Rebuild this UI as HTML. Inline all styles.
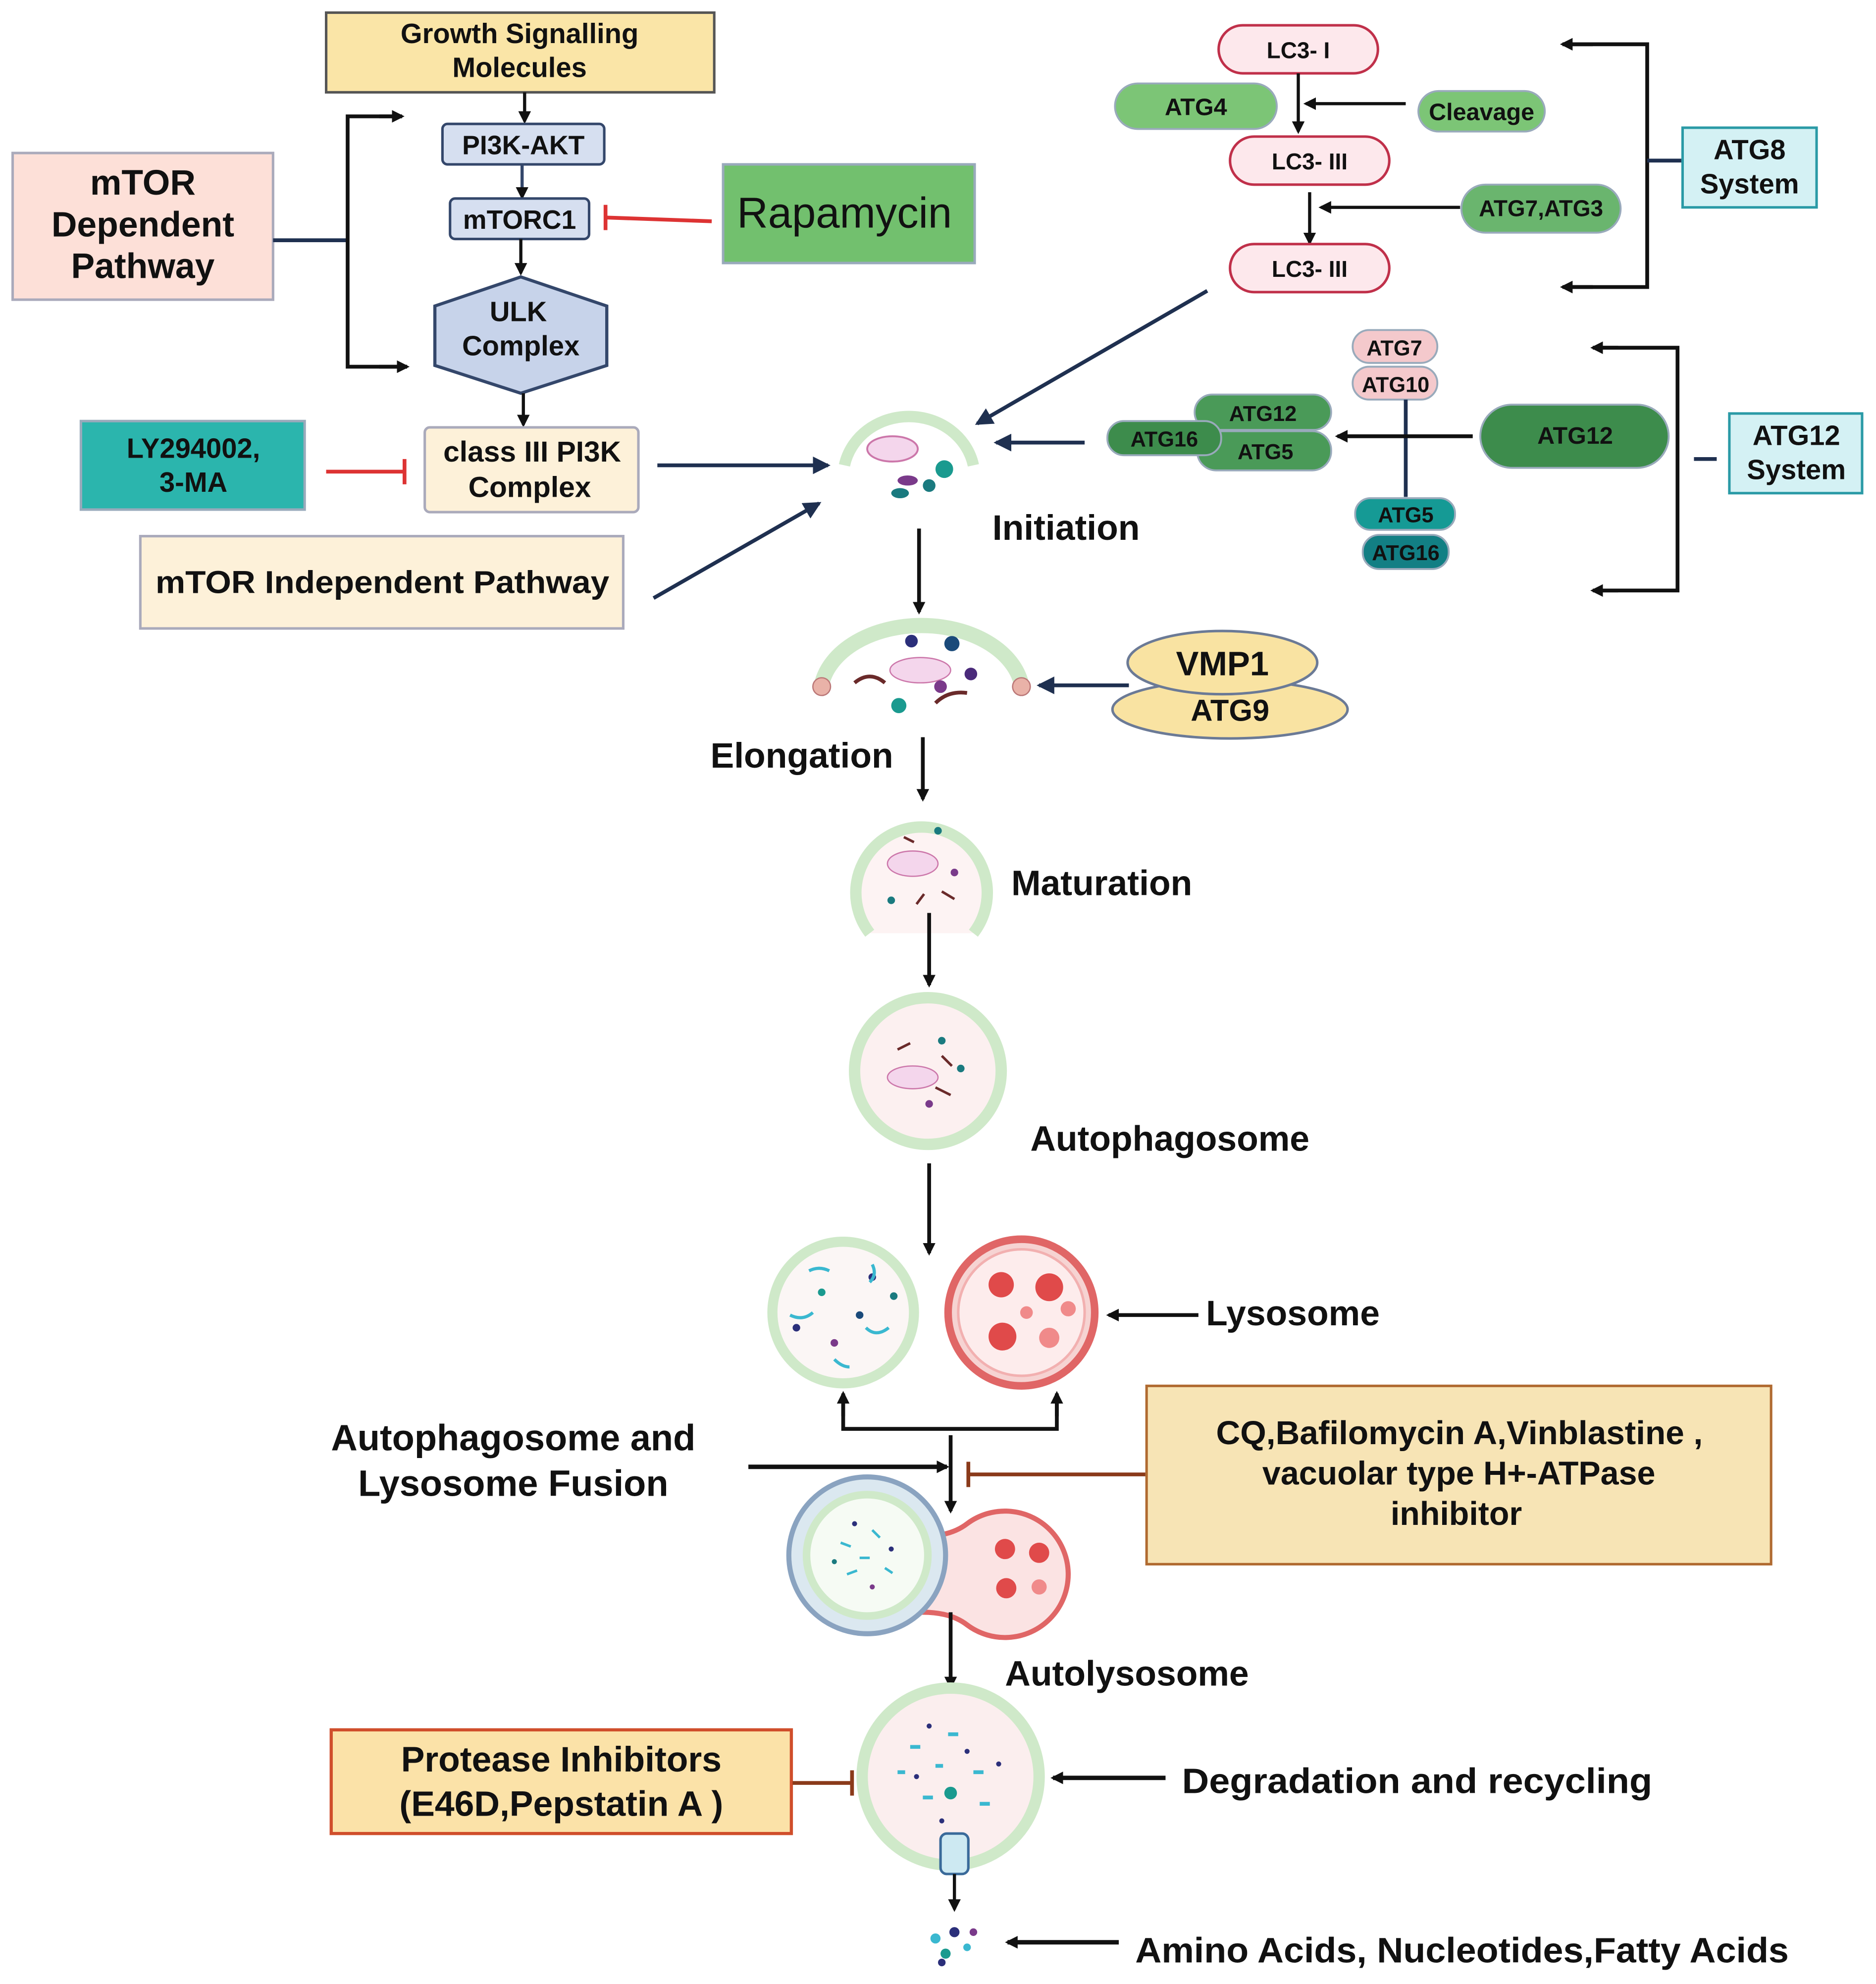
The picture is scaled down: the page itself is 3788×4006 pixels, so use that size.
<!DOCTYPE html>
<html><head><meta charset="utf-8"><style>
html,body{margin:0;padding:0;background:#fff;}
svg{display:block;}
text{font-family:"Liberation Sans",sans-serif;font-weight:bold;fill:#111;}
</style></head><body>
<svg width="3788" height="4006" viewBox="0 0 1484 1569" preserveAspectRatio="none" xmlns="http://www.w3.org/2000/svg">
<defs>
<marker id="a" markerWidth="10" markerHeight="10" refX="8" refY="5" orient="auto" markerUnits="userSpaceOnUse"><path d="M0,0 L10,5 L0,10 z" fill="#111"/></marker>
<marker id="b" markerWidth="14" markerHeight="14" refX="12" refY="7" orient="auto" markerUnits="userSpaceOnUse"><path d="M0,0 L14,7 L0,14 z" fill="#1f3050"/></marker>
</defs>
<rect width="1484" height="1569" fill="#fff"/>

<!-- mTOR dependent -->
<rect x="258" y="10" width="307" height="63" fill="#fae5a7" stroke="#555" stroke-width="2"/>
<text x="411" y="34" font-size="22" text-anchor="middle">Growth Signalling</text>
<text x="411" y="61" font-size="22" text-anchor="middle">Molecules</text>
<line x1="415" y1="73" x2="415" y2="96" stroke="#111" stroke-width="2.5" marker-end="url(#a)"/>
<rect x="350" y="98" width="128" height="32" rx="4" fill="#d6dff0" stroke="#34476b" stroke-width="2"/>
<text x="414" y="122" font-size="21" text-anchor="middle">PI3K-AKT</text>
<line x1="413" y1="130" x2="413" y2="156" stroke="#34476b" stroke-width="2.5" marker-end="url(#a)"/>
<rect x="356" y="157" width="110" height="32" rx="4" fill="#d6dff0" stroke="#34476b" stroke-width="2"/>
<text x="411" y="181" font-size="21" text-anchor="middle">mTORC1</text>
<line x1="412" y1="189" x2="412" y2="216" stroke="#111" stroke-width="2.5" marker-end="url(#a)"/>
<polygon points="412,219 480,242 480,289 412,311 344,289 344,242" fill="#c7d3ea" stroke="#34476b" stroke-width="2.5"/>
<text x="410" y="254" font-size="22" text-anchor="middle">ULK</text>
<text x="412" y="281" font-size="22" text-anchor="middle">Complex</text>
<line x1="414" y1="311" x2="414" y2="336" stroke="#111" stroke-width="2.5" marker-end="url(#a)"/>
<rect x="572" y="130" width="199" height="78" fill="#72c06e" stroke="#9ab" stroke-width="2"/>
<text x="668" y="180" font-size="34" text-anchor="middle" style="font-weight:normal">Rapamycin</text>
<line x1="563" y1="175" x2="479" y2="172" stroke="#d33" stroke-width="3"/>
<line x1="479" y1="162" x2="479" y2="182" stroke="#d33" stroke-width="3"/>
<rect x="10" y="121" width="206" height="116" fill="#fde0d8" stroke="#aab" stroke-width="2"/>
<text x="113" y="154" font-size="28" text-anchor="middle">mTOR</text>
<text x="113" y="187" font-size="28" text-anchor="middle">Dependent</text>
<text x="113" y="220" font-size="28" text-anchor="middle">Pathway</text>
<line x1="216" y1="190" x2="275" y2="190" stroke="#1f3050" stroke-width="3"/>
<polyline points="318,92 275,92 275,290 322,290" fill="none" stroke="#111" stroke-width="3"/>
<line x1="300" y1="92" x2="318" y2="92" stroke="#111" stroke-width="3" marker-end="url(#a)"/>
<line x1="300" y1="290" x2="322" y2="290" stroke="#111" stroke-width="3" marker-end="url(#a)"/>
<rect x="336" y="338" width="169" height="67" rx="4" fill="#fdf1d9" stroke="#aab" stroke-width="2"/>
<text x="421" y="365" font-size="23" text-anchor="middle">class III PI3K</text>
<text x="419" y="393" font-size="23" text-anchor="middle">Complex</text>
<rect x="64" y="333" width="177" height="70" fill="#2bb5ad" stroke="#9ab" stroke-width="2"/>
<text x="153" y="362" font-size="22" text-anchor="middle">LY294002,</text>
<text x="153" y="389" font-size="22" text-anchor="middle">3-MA</text>
<line x1="258" y1="373" x2="320" y2="373" stroke="#d33" stroke-width="3"/>
<line x1="320" y1="363" x2="320" y2="383" stroke="#d33" stroke-width="3"/>
<rect x="111" y="424" width="382" height="73" fill="#fdf1d9" stroke="#aab" stroke-width="2"/>
<text x="123" y="469" font-size="25" textLength="359" lengthAdjust="spacingAndGlyphs">mTOR Independent Pathway</text>
<line x1="520" y1="368" x2="655" y2="368" stroke="#1f3050" stroke-width="3" marker-end="url(#b)"/>
<line x1="517" y1="473" x2="648" y2="398" stroke="#1f3050" stroke-width="3" marker-end="url(#b)"/>

<!-- Initiation cell -->
<path d="M668,368 A52,48 0 0 1 770,368" fill="none" stroke="#cfe9c9" stroke-width="9"/>
<ellipse cx="706" cy="355" rx="20" ry="10" fill="#f4d6ec" stroke="#c7a" stroke-width="1.5"/>
<circle cx="747" cy="371" r="7" fill="#1a9a8f"/>
<ellipse cx="718" cy="380" rx="8" ry="4" fill="#7a3a8a"/>
<ellipse cx="712" cy="390" rx="7" ry="4" fill="#1a7a7f"/>
<circle cx="735" cy="384" r="5" fill="#1a7a7f"/>
<text x="785" y="427" font-size="28">Initiation</text>
<line x1="727" y1="418" x2="727" y2="484" stroke="#111" stroke-width="3" marker-end="url(#a)"/>

<!-- Elongation -->
<path d="M650,541 A80,55 0 0 1 808,541" fill="none" stroke="#cfe9c9" stroke-width="12"/>
<circle cx="650" cy="543" r="7" fill="#e9b2a8" stroke="#b77"/>
<circle cx="808" cy="543" r="7" fill="#e9b2a8" stroke="#b77"/>
<ellipse cx="728" cy="530" rx="24" ry="10" fill="#f4d6ec" stroke="#c7a"/>
<circle cx="721" cy="507" r="5" fill="#2b2f7a"/><circle cx="753" cy="509" r="6" fill="#1a4a7a"/>
<circle cx="711" cy="558" r="6" fill="#1a9a8f"/><circle cx="744" cy="543" r="5" fill="#7a3a8a"/><circle cx="768" cy="533" r="5" fill="#4a2a7a"/>
<path d="M676,540 q12,-10 24,0" stroke="#6a2a2a" stroke-width="3" fill="none"/>
<path d="M740,556 q10,-10 25,-8" stroke="#6a2a2a" stroke-width="3" fill="none"/>
<ellipse cx="973" cy="561" rx="93" ry="23" fill="#f9e3a2" stroke="#6b7a96" stroke-width="2"/>
<ellipse cx="967" cy="524" rx="75" ry="25" fill="#f9e3a2" stroke="#6b7a96" stroke-width="2"/>
<text x="967" y="534" font-size="27" text-anchor="middle">VMP1</text>
<text x="973" y="570" font-size="24" text-anchor="middle">ATG9</text>
<line x1="893" y1="542" x2="822" y2="542" stroke="#1f3050" stroke-width="3" marker-end="url(#b)"/>
<text x="562" y="607" font-size="28">Elongation</text>
<line x1="730" y1="583" x2="730" y2="632" stroke="#111" stroke-width="3" marker-end="url(#a)"/>

<!-- Maturation -->
<path d="M688,738 A52,52 0 1 1 770,738" fill="#fdf3f3" stroke="#cfe9c9" stroke-width="9"/>
<ellipse cx="722" cy="683" rx="20" ry="10" fill="#f4d6ec" stroke="#c7a"/>
<circle cx="742" cy="657" r="3" fill="#1a7a7f"/><circle cx="755" cy="690" r="3" fill="#7a3a8a"/><circle cx="705" cy="712" r="3" fill="#1a7a7f"/>
<path d="M715,662 l8,4 M745,705 l10,6 M725,715 l6,-8" stroke="#6a2a2a" stroke-width="2"/>
<text x="800" y="708" font-size="28">Maturation</text>
<line x1="735" y1="722" x2="735" y2="779" stroke="#111" stroke-width="3" marker-end="url(#a)"/>

<!-- Autophagosome -->
<circle cx="734" cy="847" r="58" fill="#fcf0f0" stroke="#cfe9c9" stroke-width="9"/>
<ellipse cx="722" cy="852" rx="20" ry="9" fill="#f4d6ec" stroke="#c7a"/>
<circle cx="745" cy="823" r="3" fill="#1a7a7f"/><circle cx="760" cy="845" r="3" fill="#1a7a7f"/><circle cx="735" cy="873" r="3" fill="#7a3a8a"/>
<path d="M710,830 l10,-5 M740,860 l12,6 M745,835 l8,8" stroke="#6a2a2a" stroke-width="2"/>
<text x="815" y="910" font-size="28">Autophagosome</text>
<line x1="735" y1="920" x2="735" y2="991" stroke="#111" stroke-width="3" marker-end="url(#a)"/>

<!-- two circles -->
<circle cx="667" cy="1038" r="56" fill="#fbf6f5" stroke="#cfe9c9" stroke-width="8"/>
<circle cx="650" cy="1022" r="3" fill="#1a9a8f"/><circle cx="690" cy="1010" r="3" fill="#2b2f7a"/><circle cx="680" cy="1040" r="3" fill="#1a4a7a"/><circle cx="660" cy="1062" r="3" fill="#7a3a8a"/><circle cx="707" cy="1025" r="3" fill="#1a7a7f"/><circle cx="630" cy="1050" r="3" fill="#2b2f7a"/>
<path d="M640,1005 q8,-4 16,0 M625,1040 q10,5 18,-2 M685,1050 q8,8 18,0 M660,1075 q6,6 12,6 M690,1000 q4,8 -2,14" stroke="#3ab8d0" stroke-width="2.5" fill="none"/>
<circle cx="808" cy="1038" r="58" fill="#f6d3d2" stroke="#e06666" stroke-width="6"/>
<circle cx="808" cy="1038" r="50" fill="#fdecec" stroke="#f2b0b0" stroke-width="2"/>
<circle cx="792" cy="1016" r="10" fill="#e04a4a"/><circle cx="830" cy="1018" r="11" fill="#e04a4a"/><circle cx="793" cy="1057" r="11" fill="#e04a4a"/><circle cx="830" cy="1058" r="8" fill="#f08a8a"/><circle cx="845" cy="1035" r="6" fill="#f08a8a"/><circle cx="812" cy="1038" r="5" fill="#f08a8a"/>
<line x1="948" y1="1040" x2="877" y2="1040" stroke="#111" stroke-width="3" marker-end="url(#a)"/>
<text x="954" y="1048" font-size="28">Lysosome</text>
<polyline points="667,1103 667,1130 836,1130 836,1103" fill="none" stroke="#111" stroke-width="3"/>
<line x1="667" y1="1120" x2="667" y2="1102" stroke="#111" stroke-width="3" marker-end="url(#a)"/>
<line x1="836" y1="1120" x2="836" y2="1102" stroke="#111" stroke-width="3" marker-end="url(#a)"/>
<line x1="752" y1="1135" x2="752" y2="1195" stroke="#111" stroke-width="3" marker-end="url(#a)"/>
<line x1="592" y1="1160" x2="749" y2="1160" stroke="#111" stroke-width="3.5" marker-end="url(#a)"/>
<text x="406" y="1147" font-size="29" text-anchor="middle">Autophagosome and</text>
<text x="406" y="1183" font-size="29" text-anchor="middle">Lysosome Fusion</text>
<rect x="907" y="1096" width="494" height="141" fill="#f7e4b5" stroke="#b06a30" stroke-width="2"/>
<text x="962" y="1142" font-size="26" textLength="385" lengthAdjust="spacingAndGlyphs">CQ,Bafilomycin A,Vinblastine ,</text>
<text x="1154" y="1174" font-size="26" text-anchor="middle">vacuolar type H+-ATPase</text>
<text x="1152" y="1206" font-size="26" text-anchor="middle">inhibitor</text>
<line x1="906" y1="1166" x2="766" y2="1166" stroke="#8a3a1a" stroke-width="3"/>
<line x1="766" y1="1156" x2="766" y2="1176" stroke="#8a3a1a" stroke-width="3"/>

<!-- autolysosome -->
<path d="M730,1215 Q752,1215 765,1205 A50,50 0 1 1 765,1285 Q752,1275 730,1275 Z" fill="#fbe3e3" stroke="#e06666" stroke-width="4"/>
<circle cx="686" cy="1230" r="62" fill="#dbe8f0" stroke="#8aa3c0" stroke-width="4"/>
<circle cx="686" cy="1230" r="48" fill="#f6fbf4" stroke="#cfe9c9" stroke-width="6"/>
<circle cx="795" cy="1225" r="8" fill="#e04a4a"/><circle cx="822" cy="1228" r="8" fill="#e04a4a"/><circle cx="796" cy="1256" r="8" fill="#e04a4a"/><circle cx="822" cy="1255" r="6" fill="#f08a8a"/>
<path d="M665,1220 l8,3 M690,1210 l6,6 M670,1245 l8,-3 M700,1240 l6,4 M680,1232 l8,0" stroke="#3ab8d0" stroke-width="2"/>
<circle cx="676" cy="1205" r="2" fill="#2b2f7a"/><circle cx="705" cy="1225" r="2" fill="#2b2f7a"/><circle cx="660" cy="1235" r="2" fill="#1a7a7f"/><circle cx="690" cy="1255" r="2" fill="#7a3a8a"/>
<line x1="752" y1="1275" x2="752" y2="1334" stroke="#111" stroke-width="3" marker-end="url(#a)"/>
<text x="795" y="1333" font-size="28">Autolysosome</text>

<!-- degradation -->
<circle cx="752" cy="1405" r="70" fill="#fbeeee" stroke="#cfe9c9" stroke-width="9"/>
<g fill="#3ab8d0"><rect x="720" y="1380" width="8" height="3"/><rect x="750" y="1370" width="8" height="3"/><rect x="770" y="1400" width="8" height="3"/><rect x="730" y="1420" width="8" height="3"/><rect x="710" y="1400" width="6" height="3"/><rect x="775" y="1425" width="8" height="3"/><rect x="740" y="1395" width="6" height="3"/></g>
<g fill="#2b2f7a"><circle cx="735" cy="1365" r="2"/><circle cx="765" cy="1385" r="2"/><circle cx="725" cy="1405" r="2"/><circle cx="790" cy="1395" r="2"/><circle cx="745" cy="1440" r="2"/></g>
<circle cx="752" cy="1418" r="5" fill="#1a9a8f"/>
<rect x="744" y="1450" width="22" height="32" rx="5" fill="#cde9f2" stroke="#3a6a9a" stroke-width="2"/>
<line x1="755" y1="1482" x2="755" y2="1510" stroke="#111" stroke-width="2.5" marker-end="url(#a)"/>
<line x1="922" y1="1406" x2="833" y2="1406" stroke="#111" stroke-width="3.5" marker-end="url(#a)"/>
<text x="935" y="1418" font-size="28" textLength="372" lengthAdjust="spacingAndGlyphs">Degradation  and recycling</text>
<rect x="262" y="1368" width="364" height="82" fill="#fbe2a8" stroke="#d04e2b" stroke-width="2.5"/>
<text x="444" y="1401" font-size="28" text-anchor="middle">Protease Inhibitors</text>
<text x="444" y="1436" font-size="28" text-anchor="middle">(E46D,Pepstatin A )</text>
<line x1="627" y1="1410" x2="674" y2="1410" stroke="#8a3a1a" stroke-width="3"/>
<line x1="674" y1="1400" x2="674" y2="1420" stroke="#8a3a1a" stroke-width="3"/>
<g><circle cx="740" cy="1533" r="4" fill="#3ab8d0"/><circle cx="755" cy="1528" r="4" fill="#2b2f7a"/><circle cx="748" cy="1545" r="4" fill="#1a9a8f"/><circle cx="765" cy="1540" r="3" fill="#3ab8d0"/><circle cx="745" cy="1552" r="3" fill="#2b2f7a"/><circle cx="770" cy="1528" r="3" fill="#7a3a8a"/></g>
<line x1="885" y1="1536" x2="797" y2="1536" stroke="#111" stroke-width="3.5" marker-end="url(#a)"/>
<text x="898" y="1552" font-size="28" textLength="517" lengthAdjust="spacingAndGlyphs">Amino Acids, Nucleotides,Fatty Acids</text>

<!-- ATG8 system -->
<rect x="964" y="20" width="126" height="38" rx="19" fill="#fde8ec" stroke="#c0304a" stroke-width="2"/>
<text x="1027" y="46" font-size="18" text-anchor="middle">LC3- I</text>
<rect x="882" y="66" width="128" height="36" rx="18" fill="#7cc576" stroke="#9ab" stroke-width="1.5"/>
<text x="946" y="91" font-size="19" text-anchor="middle">ATG4</text>
<line x1="1027" y1="58" x2="1027" y2="104" stroke="#111" stroke-width="2.5" marker-end="url(#a)"/>
<line x1="1112" y1="82" x2="1033" y2="82" stroke="#111" stroke-width="2.5" marker-end="url(#a)"/>
<rect x="1122" y="72" width="100" height="32" rx="16" fill="#7cc576" stroke="#9ab" stroke-width="1.5"/>
<text x="1172" y="95" font-size="19" text-anchor="middle">Cleavage</text>
<rect x="973" y="108" width="126" height="38" rx="19" fill="#fde8ec" stroke="#c0304a" stroke-width="2"/>
<text x="1036" y="134" font-size="18" text-anchor="middle">LC3- III</text>
<line x1="1036" y1="152" x2="1036" y2="192" stroke="#111" stroke-width="2.5" marker-end="url(#a)"/>
<line x1="1155" y1="164" x2="1045" y2="164" stroke="#111" stroke-width="2.5" marker-end="url(#a)"/>
<rect x="1156" y="146" width="126" height="38" rx="19" fill="#6ab56e" stroke="#9ab" stroke-width="1.5"/>
<text x="1219" y="171" font-size="18" text-anchor="middle">ATG7,ATG3</text>
<rect x="973" y="193" width="126" height="38" rx="19" fill="#fde8ec" stroke="#c0304a" stroke-width="2"/>
<text x="1036" y="219" font-size="18" text-anchor="middle">LC3- III</text>
<polyline points="1240,35 1303,35 1303,227 1240,227" fill="none" stroke="#111" stroke-width="3"/>
<line x1="1260" y1="35" x2="1236" y2="35" stroke="#111" stroke-width="3" marker-end="url(#a)"/>
<line x1="1260" y1="227" x2="1236" y2="227" stroke="#111" stroke-width="3" marker-end="url(#a)"/>
<line x1="1303" y1="127" x2="1330" y2="127" stroke="#1f3050" stroke-width="3"/>
<rect x="1331" y="101" width="106" height="63" fill="#d4f1f4" stroke="#2a9aa6" stroke-width="2"/>
<text x="1384" y="126" font-size="22" text-anchor="middle">ATG8</text>
<text x="1384" y="153" font-size="22" text-anchor="middle">System</text>
<line x1="955" y1="230" x2="773" y2="335" stroke="#1f3050" stroke-width="3" marker-end="url(#b)"/>

<!-- ATG12 system -->
<rect x="1070" y="261" width="67" height="26" rx="13" fill="#f4c9cc" stroke="#9ab" stroke-width="1.5"/>
<text x="1103" y="281" font-size="17" text-anchor="middle">ATG7</text>
<rect x="1070" y="290" width="67" height="26" rx="13" fill="#f4c9cc" stroke="#9ab" stroke-width="1.5"/>
<text x="1104" y="310" font-size="17" text-anchor="middle">ATG10</text>
<line x1="1112" y1="316" x2="1112" y2="393" stroke="#1f3050" stroke-width="3"/>
<rect x="1072" y="394" width="79" height="25" rx="12" fill="#159a95" stroke="#9ab" stroke-width="1.5"/>
<text x="1112" y="413" font-size="17" text-anchor="middle">ATG5</text>
<rect x="1078" y="423" width="68" height="27" rx="13" fill="#127f84" stroke="#9ab" stroke-width="1.5"/>
<text x="1112" y="443" font-size="17" text-anchor="middle">ATG16</text>
<rect x="1171" y="320" width="149" height="50" rx="25" fill="#3d8c4c" stroke="#9ab" stroke-width="1.5"/>
<text x="1246" y="351" font-size="19" text-anchor="middle">ATG12</text>
<line x1="1165" y1="345" x2="1058" y2="345" stroke="#111" stroke-width="3" marker-end="url(#a)"/>
<rect x="945" y="312" width="108" height="28" rx="14" fill="#4a9a58" stroke="#9ab" stroke-width="1.5"/>
<text x="999" y="333" font-size="17" text-anchor="middle">ATG12</text>
<rect x="947" y="341" width="106" height="31" rx="15" fill="#4a9a58" stroke="#9ab" stroke-width="1.5"/>
<text x="1001" y="363" font-size="17" text-anchor="middle">ATG5</text>
<rect x="876" y="333" width="90" height="27" rx="13" fill="#3d8c4c" stroke="#9ab" stroke-width="1.5"/>
<text x="921" y="353" font-size="17" text-anchor="middle">ATG16</text>
<line x1="858" y1="350" x2="788" y2="350" stroke="#1f3050" stroke-width="3" marker-end="url(#b)"/>
<polyline points="1265,275 1327,275 1327,467 1265,467" fill="none" stroke="#111" stroke-width="3"/>
<line x1="1280" y1="275" x2="1260" y2="275" stroke="#111" stroke-width="3" marker-end="url(#a)"/>
<line x1="1280" y1="467" x2="1260" y2="467" stroke="#111" stroke-width="3" marker-end="url(#a)"/>
<line x1="1340" y1="363" x2="1358" y2="363" stroke="#1f3050" stroke-width="3"/>
<rect x="1368" y="327" width="105" height="63" fill="#d4f1f4" stroke="#2a9aa6" stroke-width="2"/>
<text x="1421" y="352" font-size="22" text-anchor="middle">ATG12</text>
<text x="1421" y="379" font-size="22" text-anchor="middle">System</text>
</svg>
</body></html>
